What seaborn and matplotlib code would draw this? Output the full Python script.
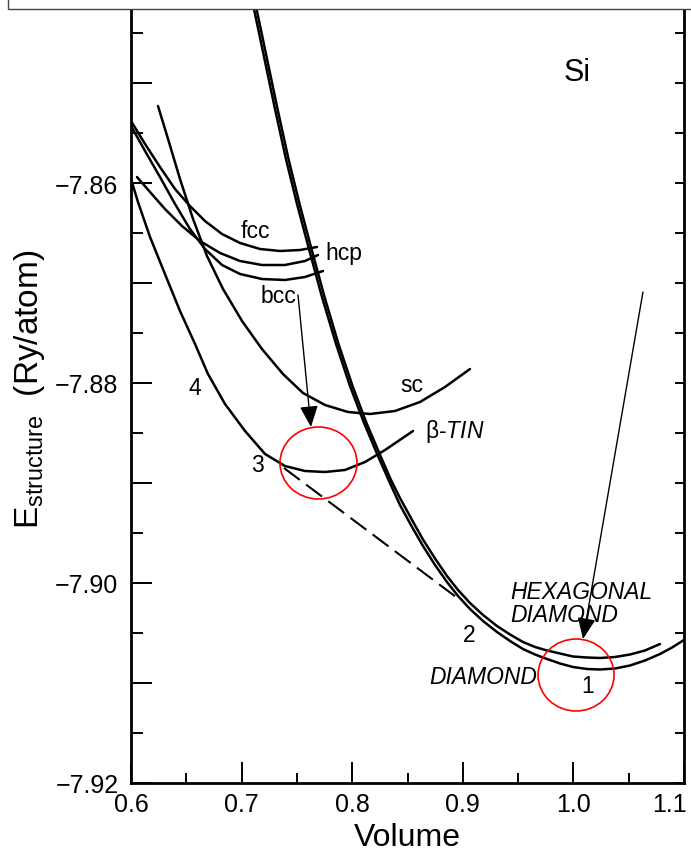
import numpy as np
import pandas as pd
import seaborn as sns
import matplotlib.pyplot as plt
from matplotlib.patches import Ellipse, Rectangle
from matplotlib.ticker import MultipleLocator, FixedLocator, FuncFormatter

# E(V) curves for Si structures (volume, Ry/atom)
diamond_v = [0.7112, 0.7207, 0.7302, 0.7401, 0.7501, 0.7609, 0.7727, 0.7854, 0.7980, 0.8107,
             0.8233, 0.8333, 0.8432, 0.8541, 0.8640, 0.8749, 0.8857, 0.8957, 0.9065, 0.9183,
             0.9309, 0.9427, 0.9544, 0.9653, 0.9761, 0.9879, 0.9996, 1.0123, 1.0241, 1.0376,
             1.0512, 1.0647, 1.0783, 1.0892, 1.1000]
diamond_e = [-7.8426, -7.8476, -7.8526, -7.8576, -7.8621, -7.8666, -7.8714, -7.8761, -7.8803, -7.8840,
             -7.8873, -7.8898, -7.8922, -7.8944, -7.8963, -7.8982, -7.8999, -7.9013, -7.9026, -7.9038,
             -7.9049, -7.9058, -7.9066, -7.90715, -7.9076, -7.90805, -7.9084, -7.9086, -7.90865, -7.90855,
             -7.90825, -7.90775, -7.9071, -7.90645, -7.9057]

hexdia_v = [0.7135, 0.7230, 0.7325, 0.7424, 0.7524, 0.7632, 0.7750, 0.7876, 0.8003, 0.8129,
            0.8256, 0.8355, 0.8432, 0.8541, 0.8640, 0.8749, 0.8857, 0.8957, 0.9065, 0.9183,
            0.9309, 0.9427, 0.9544, 0.9653, 0.9761, 0.9879, 0.9996, 1.0123, 1.0241, 1.0376,
            1.0512, 1.0647, 1.0783]
hexdia_e = [-7.8426, -7.8476, -7.8526, -7.8576, -7.8621, -7.8666, -7.8714, -7.8761, -7.8803, -7.8840,
            -7.8873, -7.8898, -7.8915, -7.8937, -7.89565, -7.89755, -7.8993, -7.9007, -7.9020, -7.9032,
            -7.9043, -7.90515, -7.9059, -7.9064, -7.90675, -7.90705, -7.90735, -7.90745, -7.9075, -7.9074,
            -7.90715, -7.90675, -7.9061]

btin_v = [0.6000, 0.6063, 0.6172, 0.6307, 0.6443, 0.6579, 0.6696, 0.6850, 0.7031, 0.7212,
          0.7392, 0.7573, 0.7754, 0.7935, 0.8116, 0.8297, 0.8550]
btin_e = [-7.8596, -7.8619, -7.8654, -7.8691, -7.8728, -7.8761, -7.8791, -7.8821, -7.8848, -7.8871,
          -7.8883, -7.8888, -7.8889, -7.8887, -7.8879, -7.8867, -7.8848]

sc_v = [0.6244, 0.6335, 0.6443, 0.6561, 0.6687, 0.6832, 0.7004, 0.7184, 0.7374, 0.7555,
        0.7754, 0.7962, 0.8161, 0.8387, 0.8613, 0.8839, 0.9065]
sc_e = [-7.8523, -7.8556, -7.8596, -7.8636, -7.8673, -7.8706, -7.8738, -7.8766, -7.8791, -7.8810,
        -7.8822, -7.8829, -7.8831, -7.8828, -7.8819, -7.8804, -7.8786]

fcc_v = [0.6000, 0.6127, 0.6262, 0.6398, 0.6533, 0.6669, 0.6823, 0.6986, 0.7166, 0.7347, 0.7528, 0.7682]
fcc_e = [-7.8538, -7.8561, -7.8584, -7.8606, -7.8623, -7.8638, -7.8651, -7.8660, -7.8666, -7.8668, -7.8667, -7.8664]

hcp_v = [0.6054, 0.6172, 0.6307, 0.6461, 0.6624, 0.6805, 0.6986, 0.7184, 0.7392, 0.7573, 0.7691]
hcp_e = [-7.8594, -7.8609, -7.8626, -7.8643, -7.8658, -7.8670, -7.8678, -7.8682, -7.8682, -7.8678, -7.8672]

bcc_v = [0.6000, 0.6127, 0.6262, 0.6398, 0.6533, 0.6669, 0.6823, 0.6986, 0.7184, 0.7392, 0.7573, 0.7736]
bcc_e = [-7.8543, -7.8568, -7.8594, -7.8621, -7.8646, -7.8666, -7.8682, -7.8691, -7.8696, -7.8697, -7.8694, -7.8688]

# common tangent between beta-tin (3) and diamond (2)
tangent_v = [0.7383, 0.8975]
tangent_e = [-7.8885, -7.9017]

sns.set_style("ticks")
plt.rcParams['font.family'] = ['Liberation Sans', 'DejaVu Sans']
plt.rcParams['mathtext.fontset'] = 'custom'
plt.rcParams['mathtext.rm'] = 'Liberation Sans'
plt.rcParams['mathtext.it'] = 'Liberation Sans:italic'
plt.rcParams['mathtext.bf'] = 'Liberation Sans:bold'
for key in ['text.color', 'axes.labelcolor', 'xtick.color', 'ytick.color']:
    plt.rcParams[key] = 'black'

fig = plt.figure(figsize=(6.91, 8.54), dpi=100)
ax = fig.add_axes([131 / 691, 70 / 854, 553 / 691, 774 / 854])

curves = [(diamond_v, diamond_e), (hexdia_v, hexdia_e), (btin_v, btin_e),
          (sc_v, sc_e), (fcc_v, fcc_e), (hcp_v, hcp_e), (bcc_v, bcc_e)]
for xs, ys in curves:
    sns.lineplot(x=xs, y=ys, ax=ax, color='black', lw=1.8, sort=False, estimator=None)

sns.lineplot(x=tangent_v, y=tangent_e, ax=ax, color='black', lw=1.5,
             linestyle=(0, (9.5, 3.8)), sort=False, estimator=None)

ax.set_xlim(0.6, 1.1)
ax.set_ylim(-7.92, -7.8426)

# ticks; the last x label ("1.1") is drawn separately so it stays inside the picture
ax.xaxis.set_major_locator(MultipleLocator(0.1))
ax.xaxis.set_minor_locator(MultipleLocator(0.05))
ax.xaxis.set_major_formatter(FuncFormatter(lambda v, p: "" if v > 1.09 else f"{v:.1f}"))
ax.yaxis.set_major_locator(FixedLocator(np.arange(-7.92, -7.845, 0.01)))
ax.yaxis.set_minor_locator(MultipleLocator(0.005))
ax.yaxis.set_major_formatter(FuncFormatter(
    lambda v, p: f"{v:.2f}".replace('-', '\u2212') if round(v * 100) % 2 == 0 else ""))
ax.tick_params(which='both', direction='in', width=1.4, colors='black', top=False, right=False)
ax.tick_params(axis='x', which='major', length=15, pad=6.5, labelsize=18)
ax.tick_params(axis='x', which='minor', length=7.5)
ax.tick_params(axis='y', which='major', length=15, pad=9, labelsize=18)
ax.tick_params(axis='y', which='minor', length=8.5)
ax.annotate("1.1", xy=(1.1, 0), xycoords=('data', 'axes fraction'), xytext=(2, -6.5),
            textcoords='offset points', ha='right', va='top', fontsize=18)

for side in ['left', 'right', 'bottom']:
    ax.spines[side].set_linewidth(2.0)
    ax.spines[side].set_color('black')
ax.spines['top'].set_visible(False)

# right side ticks
ax2 = ax.twinx()
ax2.set_ylim(ax.get_ylim())
ax2.yaxis.set_major_locator(MultipleLocator(0.005))
ax2.tick_params(axis='y', direction='in', length=6.5, width=1.4, labelright=False)
for s in ax2.spines.values():
    s.set_visible(False)
ax2.grid(False)

ax.set_xlabel("Volume", fontsize=23, va='top')
ax.xaxis.set_label_coords(0.5, -0.050)
ax.set_ylabel(r"$\mathrm{E_{structure}}$  (Ry/atom)", fontsize=24)
ax.yaxis.set_label_coords(-0.152, 0.51)

# labels
lab = dict(fontsize=16.5, ha='center', va='center', color='black')
ax.text(1.0033, -7.8489, "Si", fontsize=22, ha='center', va='center')
ax.text(0.7121, -7.8648, "fcc", **lab)
ax.text(0.7926, -7.8670, "hcp", **lab)
ax.text(0.7329, -7.8713, "bcc", **lab)
ax.text(0.8541, -7.8802, "sc", **lab)
ax.text(0.8658, -7.8848, r"β-$\mathit{TIN}$", fontsize=16.5, ha='left', va='center')
ax.text(0.6579, -7.8805, "4", **lab)
ax.text(0.7139, -7.8882, "3", **lab)
ax.text(0.9056, -7.9052, "2", **lab)
ax.text(1.0132, -7.9103, "1", **lab)
ax.text(0.9427, -7.9020, "HEXAGONAL\nDIAMOND", fontsize=16.5, style='italic',
        ha='left', va='center', linespacing=1.05)
ax.text(0.9671, -7.9094, "DIAMOND", fontsize=16.5, style='italic', ha='right', va='center')

# annotation arrows and red circles
arrow = dict(arrowstyle='-|>,head_length=0.65,head_width=0.28', color='black',
             lw=1.0, mutation_scale=20, shrinkA=0, shrinkB=0)
ax.annotate('', xy=(0.7627, -7.8844), xytext=(0.7510, -7.8712), arrowprops=arrow)
ax.annotate('', xy=(1.0087, -7.9056), xytext=(1.0629, -7.8709), arrowprops=arrow)
ax.add_patch(Ellipse((0.7695, -7.8880), 0.0696, 0.0072, fill=False, edgecolor='red', lw=1.2, zorder=5))
ax.add_patch(Ellipse((1.0024, -7.9092), 0.0687, 0.0072, fill=False, edgecolor='red', lw=1.2, zorder=5))

# frame of the box cut off at the top
fig.add_artist(Rectangle((8 / 691, 844.5 / 854), 1.0, 0.05, transform=fig.transFigure,
                         facecolor='white', edgecolor='#444444', lw=1.0, zorder=10))

fig.savefig("out.png", dpi=100)
